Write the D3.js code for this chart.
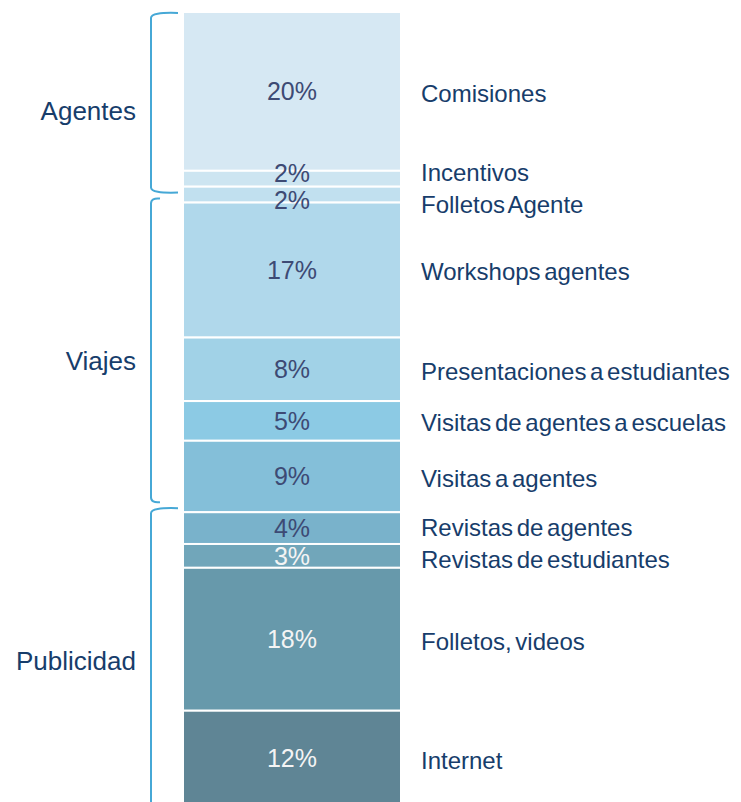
<!DOCTYPE html>
<html>
<head>
<meta charset="utf-8">
<script src="https://cdn.jsdelivr.net/npm/d3@7"></script>
<style>
body { margin: 0; background: #fff; }
svg { display: block; font-family: "Liberation Sans", Arial, sans-serif; }
</style>
</head>
<body>
<script>
//budget split, top of the bar first
var categories = ["Comisiones", "Incentivos", "Folletos Agente", "Workshops agentes",
	"Presentaciones a estudiantes", "Visitas de agentes a escuelas", "Visitas a agentes",
	"Revistas de agentes", "Revistas de estudiantes", "Folletos, videos", "Internet"];
var values = [20, 2, 2, 17, 8, 5, 9, 4, 3, 18, 12];
var colors = ["#d6e8f3", "#cde5f1", "#c1e0ef", "#b0d8eb", "#a1d2e7", "#8ccae4",
	"#84bfd9", "#79b2cb", "#71a6ba", "#6799ab", "#5f8595"];
var groups = ["Agentes", "Viajes", "Publicidad"];
var groupSizes = [3, 4, 4]; //number of categories in each group

var width = 741, height = 802;

var svg = d3.select("body").append("svg")
	.attr("width", width)
	.attr("height", height);

//stack the values
var rows = [], acc = 0;
values.forEach(function(v, i){
	rows.push({name: categories[i], value: v, y0: acc, y1: acc + v, color: colors[i], idx: i});
	acc += v;
});

var y = d3.scaleLinear().domain([0, 100]).range([12, 806]);
var x0 = 183, x1 = 401;

svg.selectAll(".seg")
	.data(rows)
	.enter()
	.append("rect")
	.attr("class", "seg")
	.attr("x", x0)
	.attr("width", x1 - x0)
	.attr("y", function(d){ return y(d.y0); })
	.attr("height", function(d){ return y(d.y1) - y(d.y0); })
	.attr("fill", function(d){ return d.color; })
	.attr("stroke", "#fff")
	.attr("stroke-width", 2);

//push label centres apart when segments are thin
function spread(centres, minGap){
	var out = centres.slice();
	for (var k = 0; k < 20; k++){
		for (var i = 1; i < out.length; i++){
			var gap = out[i] - out[i-1];
			if (gap < minGap){
				var s = (minGap - gap) / 2;
				out[i-1] -= s;
				out[i] += s;
			}
		}
	}
	return out;
}

var mids = rows.map(function(d){ return (y(d.y0) + y(d.y1)) / 2; });
var pctY = spread(mids, 27);
var nameY = spread(mids, 32);

svg.selectAll(".pct")
	.data(rows)
	.enter()
	.append("text")
	.attr("class", "pct")
	.attr("x", (x0 + x1) / 2)
	.attr("y", function(d, i){ return pctY[i]; })
	.attr("dy", "0.35em")
	.attr("text-anchor", "middle")
	.style("font-size", "25px")
	.style("fill", function(d){ return d.idx >= 8 ? "#f4f4f4" : "#3d4a74"; })
	.text(function(d){ return d.value + "%"; });

svg.selectAll(".name")
	.data(rows)
	.enter()
	.append("text")
	.attr("class", "name")
	.attr("x", 421)
	.attr("y", function(d, i){ return nameY[i] + 2; })
	.attr("dy", "0.35em")
	.style("font-size", "24px")
	.style("word-spacing", "-3px")
	.style("fill", "#173d6b")
	.text(function(d){ return d.name; });

//brackets and group names
var start = 0;
groups.forEach(function(g, gi){
	var a = rows[start], b = rows[start + groupSizes[gi] - 1];
	start += groupSizes[gi];
	var top = y(a.y0) + (gi == 0 ? 1 : -4);
	var bot = y(b.y1) >= height ? height + 20 : y(b.y1) - 10;
	var bx = 151, hook = gi == 1 ? 9 : 27;

	var p = d3.path();
	p.moveTo(bx + hook, top);
	p.quadraticCurveTo(bx, top - 1, bx, top + 5);
	p.lineTo(bx, bot - 5);
	p.quadraticCurveTo(bx, bot + 1, bx + hook, bot);

	svg.append("path")
		.attr("d", p.toString())
		.attr("fill", "none")
		.attr("stroke", "#46a8d6")
		.attr("stroke-width", 2);

	svg.append("text")
		.attr("x", 136)
		.attr("y", (y(a.y0) + Math.min(y(b.y1), height)) / 2 + 4)
		.attr("dy", "0.35em")
		.attr("text-anchor", "end")
		.style("font-size", "26px")
		.style("fill", "#173d6b")
		.text(g);
});
</script>
</body>
</html>
